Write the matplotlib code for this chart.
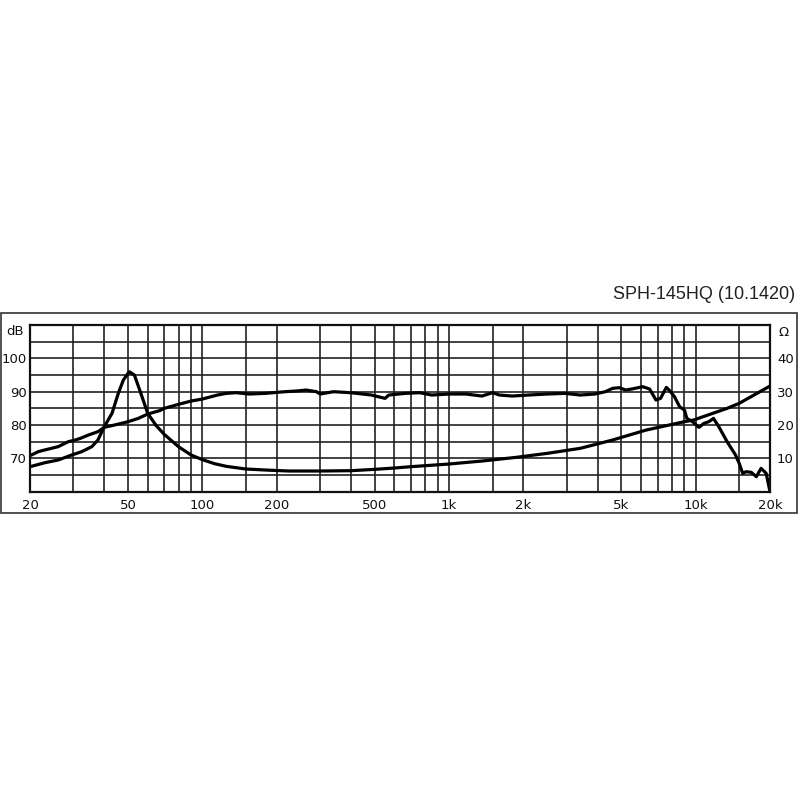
import numpy as np
import matplotlib
matplotlib.use("Agg")
import matplotlib.pyplot as plt
from matplotlib.patches import Rectangle

title = "SPH-145HQ (10.1420)"

# frequency response (dB)
spl_f = [20, 21.6, 22.9, 26, 28.6, 30.5, 32, 34.5, 37.7, 40, 44, 50, 55, 60, 67, 70, 80, 90, 100,
         115, 125, 137, 155, 180, 216, 240, 263, 290, 300, 340, 400, 484, 550, 570, 665, 760, 850,
         1000, 1170, 1360, 1500, 1600, 1800, 2100, 2500, 2950, 3400, 3900, 4300, 4600, 4900, 5200,
         5500, 6100, 6500, 6900, 7200, 7600, 7800, 8200, 8600, 9000, 9200, 9700, 10300, 10800,
         11300, 11800, 12400, 13400, 14500, 15000, 15500, 16000, 16800, 17600, 18400, 19300, 20000]
spl_db = [70.8, 72, 72.5, 73.5, 75, 75.5, 76, 77, 78, 79.3, 80, 81, 82, 83.3, 84.3, 85, 86.2, 87.2, 87.8,
          89, 89.5, 89.7, 89.3, 89.5, 90, 90.2, 90.5, 90, 89.3, 90, 89.7, 89, 88, 89, 89.5, 89.7, 89,
          89.3, 89.3, 88.7, 89.7, 89, 88.7, 89, 89.3, 89.5, 89, 89.3, 90, 91, 91.2, 90.5,
          90.8, 91.5, 90.8, 87.5, 88, 91.3, 90.5, 88.5, 85.5, 84.5, 82, 81, 79.3, 80.5,
          81, 82, 79.5, 75, 71, 68.5, 65.5, 66, 65.8, 64.5, 67, 65.5, 60]

# impedance (ohm)
imp_f = [20, 23, 26, 29.5, 32.4, 35.6, 37.7, 40, 43, 45.6, 47.8, 50.5, 53, 56.3, 60, 65, 70,
         80, 90, 100, 112, 125, 150, 180, 224, 300, 400, 500, 600, 700, 1000, 1360, 1870, 2500, 3400,
         4600, 6300, 9000, 9800, 13400, 15000, 20000]
imp_ohm = [7.5, 8.7, 9.5, 11, 12, 13.5, 15.5, 19.5, 23.5, 29.5, 33.5, 36, 35, 29.5, 23.5, 19.8, 17.2,
           13.5, 11, 9.6, 8.4, 7.6, 6.8, 6.5, 6.2, 6.2, 6.3, 6.7, 7.1, 7.5, 8.3, 9.2, 10.3, 11.5, 13,
           15.5, 18.5, 21, 21.5, 25, 26.5, 31.7]

grid_f = [20, 30, 40, 50, 60, 70, 80, 90, 100, 150, 200, 300, 400, 500, 600, 700, 800, 900,
          1000, 1500, 2000, 3000, 4000, 5000, 6000, 7000, 8000, 9000, 10000, 15000, 20000]
x_labels = {20: "20", 50: "50", 100: "100", 200: "200", 500: "500", 1000: "1k",
            2000: "2k", 5000: "5k", 10000: "10k", 20000: "20k"}
db_ticks = [60, 65, 70, 75, 80, 85, 90, 95, 100, 105, 110]
db_labels = ["", "", "70", "", "80", "", "90", "", "100", "", ""]
ohm_ticks = [10, 20, 30, 40]

fig = plt.figure(figsize=(8, 8), dpi=100)
fig.patch.set_facecolor("white")

# outer frame
fig.patches.append(Rectangle((0.00125, 0.35875), 0.995, 0.25, transform=fig.transFigure,
                             fill=False, edgecolor="#333333", linewidth=1.2))

ax = fig.add_axes([0.0375, 0.3854, 0.925, 0.2083])
ax.set_xscale("log")
ax.set_xlim(20, 20000)
ax.set_ylim(60, 110)
ax.minorticks_off()
ax.set_xticks(grid_f)
ax.set_xticklabels([x_labels.get(f, "") for f in grid_f])
ax.set_yticks(db_ticks)
ax.set_yticklabels(db_labels)
ax.tick_params(length=0, labelsize=9.5, colors="#111111")
ax.tick_params(axis="x", pad=5)
ax.tick_params(axis="y", pad=2)
ax.grid(True, color="#222222", linewidth=1.2)
ax.set_axisbelow(True)
for s in ax.spines.values():
    s.set_linewidth(1.6)
    s.set_color("#111111")

ax.plot(spl_f, spl_db, color="black", linewidth=2.3, solid_joinstyle="round")

ax2 = ax.twinx()
ax2.set_ylim(0, 50)
ax2.set_yticks(ohm_ticks)
ax2.tick_params(length=0, labelsize=9.5, colors="#111111", pad=5)
ax2.plot(imp_f, imp_ohm, color="black", linewidth=2.3, solid_joinstyle="round")
for s in ax2.spines.values():
    s.set_visible(False)

fig.text(0.019, 0.586, "dB", ha="center", va="center", fontsize=9.5, color="#111111")
fig.text(0.979, 0.585, "Ω", ha="center", va="center", fontsize=9.5, color="#111111")
fig.text(0.994, 0.626, title, ha="right", va="baseline", fontsize=13,
         family="Liberation Sans", color="#222222")

fig.savefig("out.png", dpi=100, facecolor="white")
